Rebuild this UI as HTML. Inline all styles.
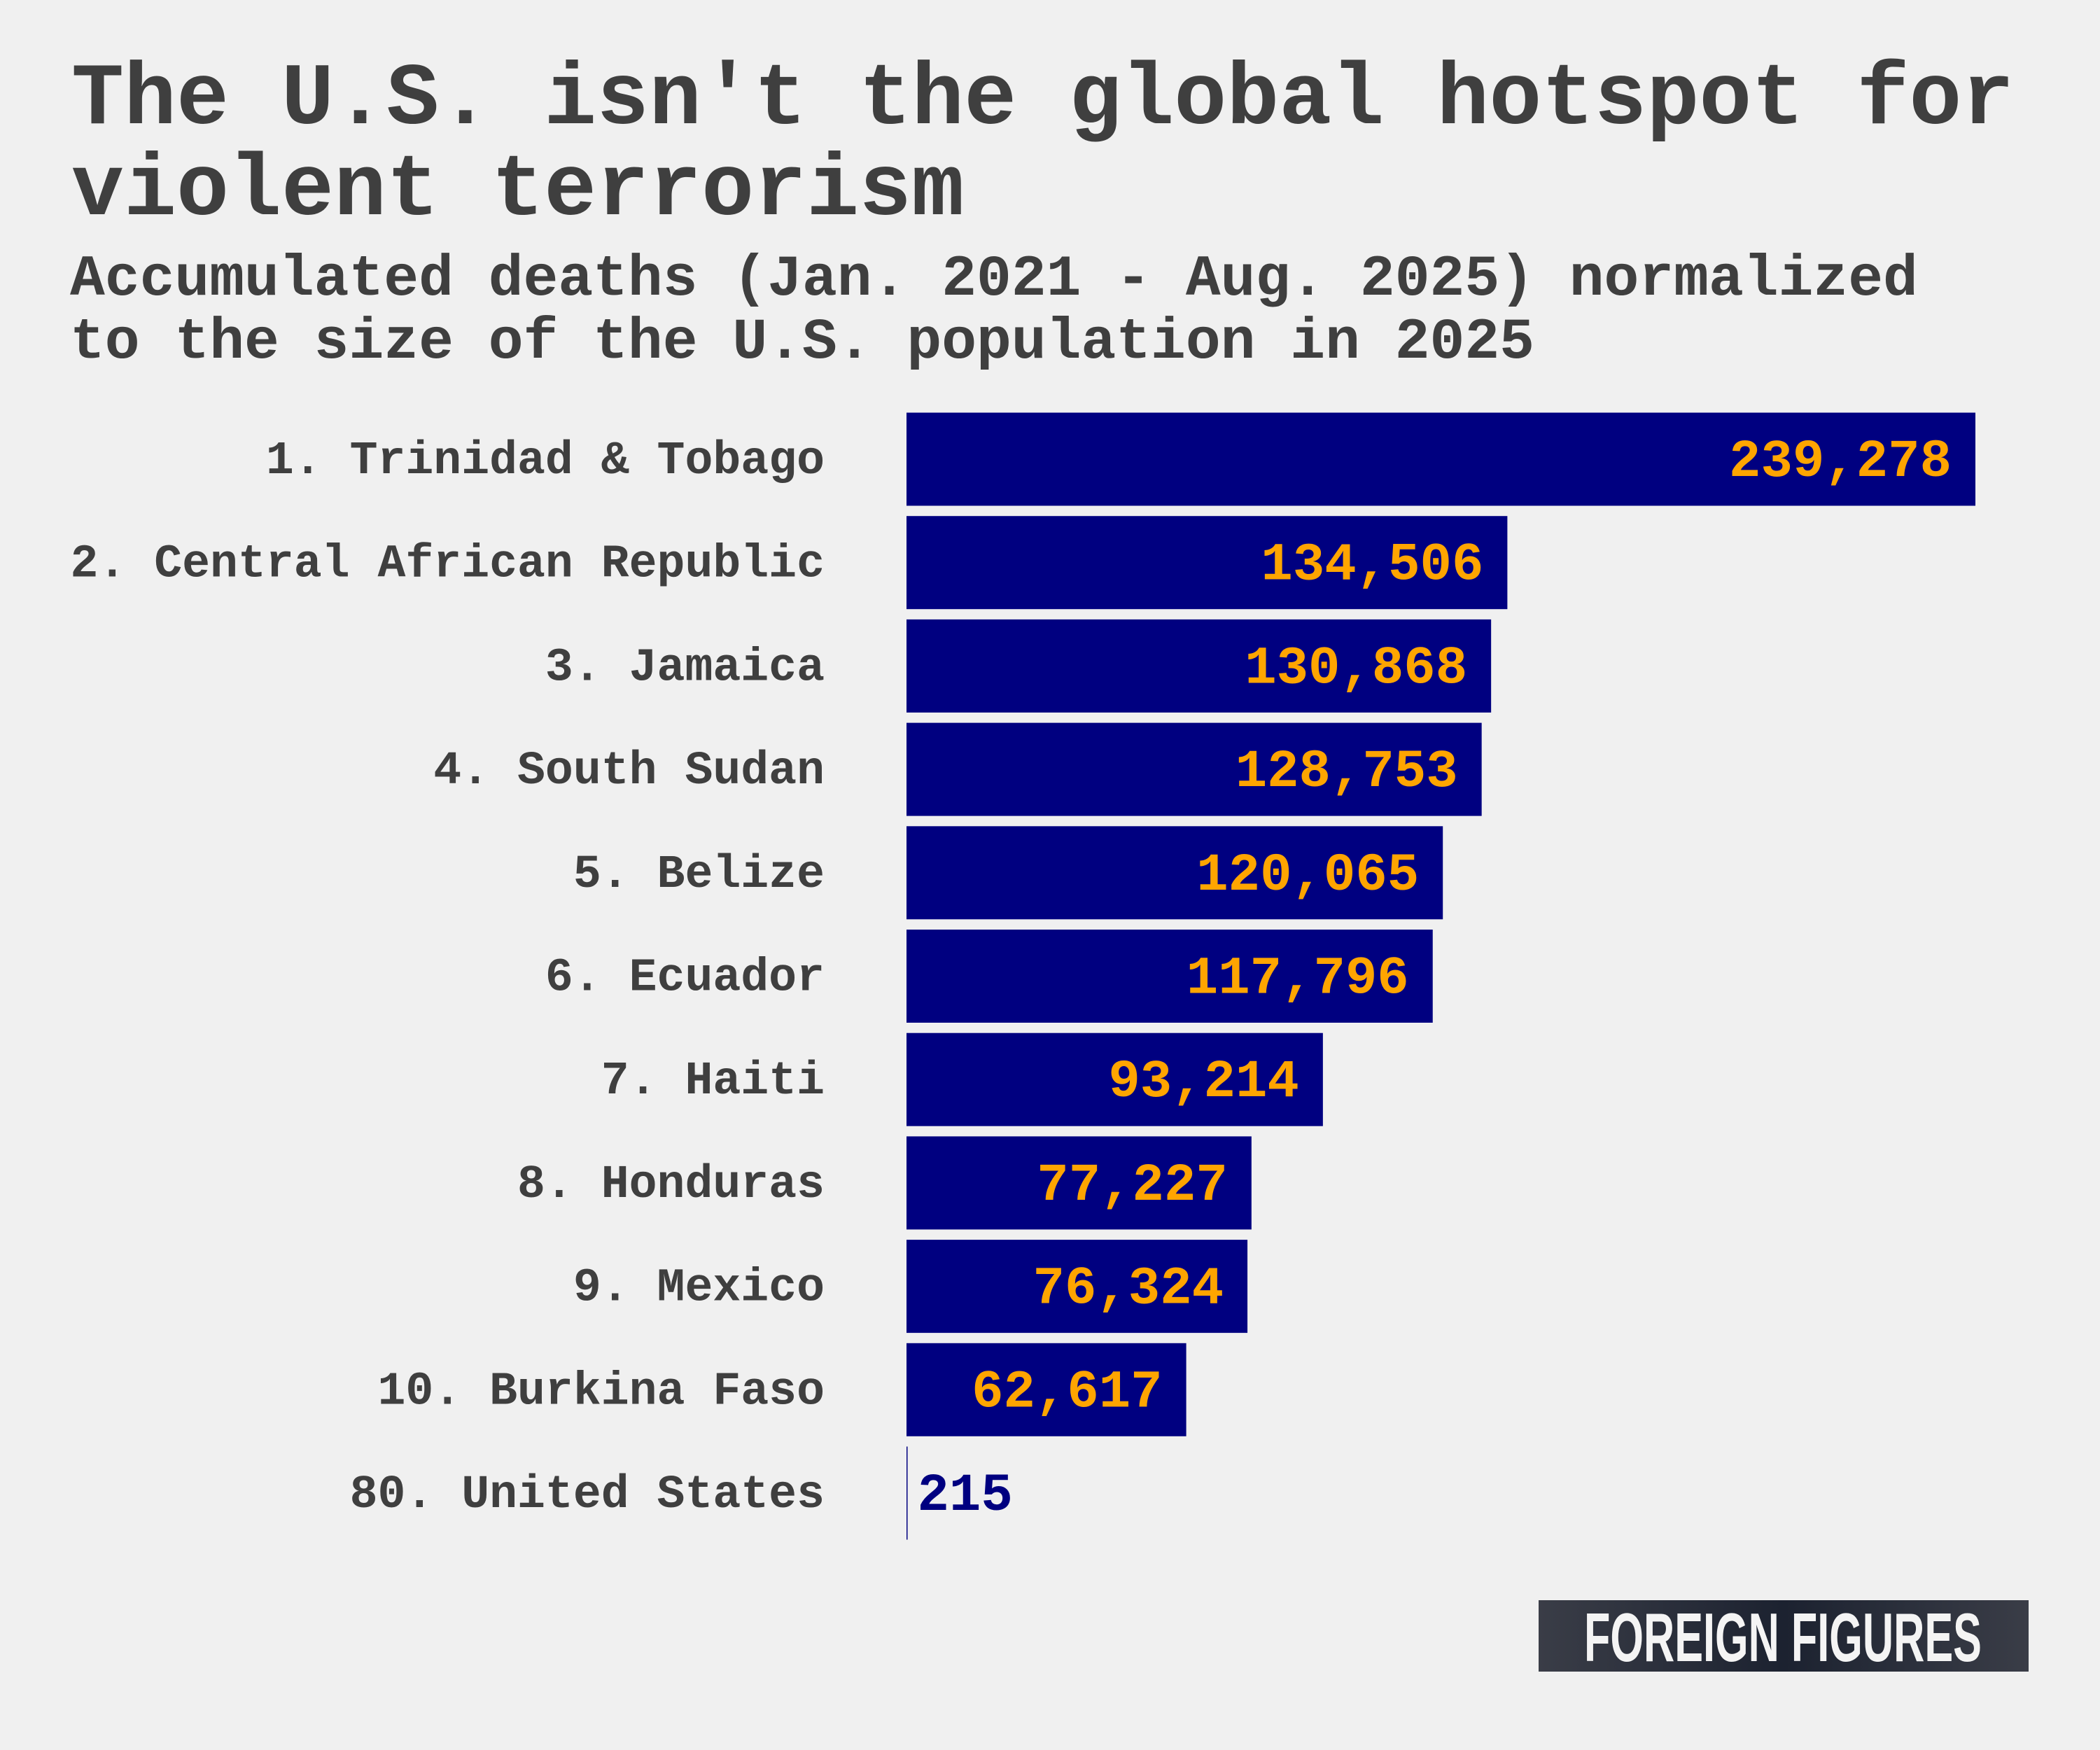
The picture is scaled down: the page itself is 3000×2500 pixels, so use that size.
<!DOCTYPE html>
<html><head><meta charset="utf-8"><style>
html,body{margin:0;padding:0;background:#f0f0f0;}
svg{display:block;}
</style></head><body>
<svg id="chart" width="3000" height="2500" xmlns="http://www.w3.org/2000/svg">
<rect width="3000" height="2500" fill="#f0f0f0"/>
<g font-family="'Liberation Mono', monospace" font-weight="bold" fill="#3f3f3f">
<text x="102" y="176" font-size="125">The U.S. isn't the global hotspot for</text>
<text x="102" y="306" font-size="125">violent terrorism</text>
<text x="100" y="421" font-size="83">Accumulated deaths (Jan. 2021 - Aug. 2025) normalized</text>
<text x="100" y="511" font-size="83">to the size of the U.S. population in 2025</text>
</g>
<g id="bars"></g>
<g>
<defs><linearGradient id="lg" x1="0" x2="1" y1="0" y2="0"><stop offset="0" stop-color="#3a3d47"/><stop offset="0.5" stop-color="#1c2230"/><stop offset="1" stop-color="#3a3d47"/></linearGradient></defs>
<rect x="2198" y="2286" width="700" height="102" fill="url(#lg)"/>
<text x="2263" y="2373" font-family="'Liberation Sans Narrow','Liberation Sans',sans-serif" font-weight="bold" font-size="98" fill="#f4f4f4" textLength="568" lengthAdjust="spacingAndGlyphs">FOREIGN FIGURES</text>
</g>
</svg>
<script>
const labels = ["1. Trinidad & Tobago","2. Central African Republic","3. Jamaica","4. South Sudan","5. Belize","6. Ecuador","7. Haiti","8. Honduras","9. Mexico","10. Burkina Faso","80. United States"];
const values = [239278,134506,130868,128753,120065,117796,93214,77227,76324,62617,215];
const valueText = ["239,278","134,506","130,868","128,753","120,065","117,796","93,214","77,227","76,324","62,617","215"];

const NS="http://www.w3.org/2000/svg";
const x0=1295, pxPer=(2822-1295)/239278;
const xScale=v=>x0+v*pxPer;
const yCenter=i=>656+i*147.7;
const barH=133;
const g=document.getElementById('bars');
values.forEach((v,i)=>{
  const cy=yCenter(i);
  const w=Math.max(xScale(v)-x0,1.5);
  const r=document.createElementNS(NS,'rect');
  r.setAttribute('x',x0);r.setAttribute('y',cy-barH/2);
  r.setAttribute('width',w);r.setAttribute('height',barH);
  r.setAttribute('fill','#000080');
  
  
  g.appendChild(r);
  const l=document.createElementNS(NS,'text');
  l.setAttribute('x',1178);l.setAttribute('y',cy+20);
  l.setAttribute('text-anchor','end');
  l.setAttribute('font-family',"'Liberation Mono', monospace");
  l.setAttribute('font-weight','bold');l.setAttribute('font-size','66.5');
  l.setAttribute('fill','#3f3f3f');
  l.textContent=labels[i];
  
  
  g.appendChild(l);
  const t=document.createElementNS(NS,'text');
  const inside=w>200;
  t.setAttribute('x',inside? x0+w-34 : x0+w+14);
  t.setAttribute('y',cy+24);
  t.setAttribute('text-anchor',inside?'end':'start');
  t.setAttribute('font-family',"'Liberation Mono', monospace");
  t.setAttribute('font-weight','bold');t.setAttribute('font-size','75.7');
  t.setAttribute('fill',inside?'#ffa500':'#000080');
  t.textContent=valueText[i];
  
  
  g.appendChild(t);
});
</script>
</body></html>
